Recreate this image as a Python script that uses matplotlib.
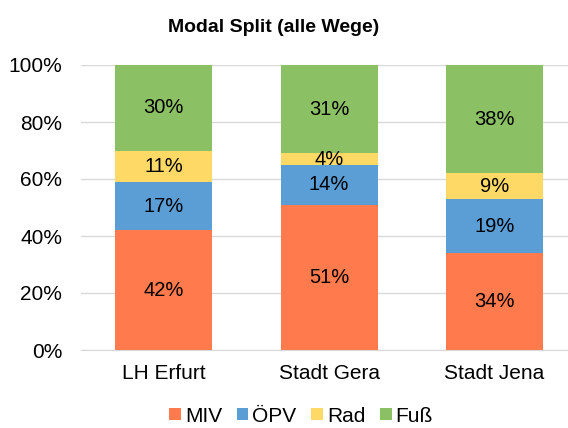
import matplotlib
matplotlib.use("Agg")
import matplotlib.pyplot as plt
from matplotlib.ticker import FuncFormatter
from matplotlib.patches import Patch

plt.rcParams['font.family'] = ['Liberation Sans', 'DejaVu Sans']

categories = ["LH Erfurt", "Stadt Gera", "Stadt Jena"]
series_names = ["MIV", "ÖPV", "Rad", "Fuß"]
miv = [42, 51, 34]
opv = [17, 14, 19]
rad = [11, 4, 9]
fuss = [30, 31, 38]
values = [miv, opv, rad, fuss]
colors = ["#FF7A4D", "#5A9ED5", "#FFD966", "#8BC064"]

W, H = 568, 428
fig = plt.figure(figsize=(W / 100, H / 100), dpi=100)
ax = fig.add_axes([81 / W, 1 - 350 / H, (568 - 81) / W, (350 - 65) / H])

x = list(range(len(categories)))
bottom = [0] * len(categories)
width = 0.586
for name, vals, c in zip(series_names, values, colors):
    ax.bar(x, vals, width, bottom=bottom, color=c, edgecolor='none', zorder=3)
    for xi, b, v in zip(x, bottom, vals):
        ax.text(xi, b + v / 2, f"{v}%", ha='center', va='center', fontsize=14.5, color='#000000', zorder=4)
    bottom = [b + v for b, v in zip(bottom, vals)]

ax.set_ylim(0, 100)
ax.set_xlim(-0.4985, 2.444)
ax.set_yticks(range(0, 101, 20))
ax.yaxis.set_major_formatter(FuncFormatter(lambda v, p: f"{int(v)}%"))
ax.set_xticks(x)
ax.set_xticklabels(categories)
ax.tick_params(axis='both', length=0, labelsize=15, colors='#000000')
ax.tick_params(axis='x', pad=10)
ax.tick_params(axis='y', pad=13.5)
ax.grid(axis='y', color='#D9D9D9', linewidth=1, zorder=0)
for s in ['top', 'right', 'left']:
    ax.spines[s].set_visible(False)
ax.spines['bottom'].set_color('#D9D9D9')
ax.spines['bottom'].set_zorder(5)

fig.text(274 / W, 1 - 27 / H, "Modal Split (alle Wege)", ha='center', va='center', fontsize=14, fontweight='bold')

handles = [Patch(facecolor=c, edgecolor='none') for c in colors]
fig.legend(handles, series_names, loc='center', bbox_to_anchor=(301 / W, 1 - 416 / H), ncol=4,
           frameon=False, fontsize=15, handlelength=0.56, handleheight=0.56, handletextpad=0.2,
           columnspacing=0.7, borderpad=0, borderaxespad=0)

fig.savefig("out.png", dpi=100)
